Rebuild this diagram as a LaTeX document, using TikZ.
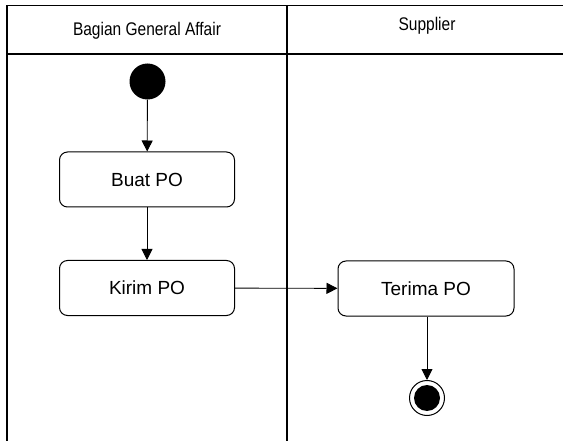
\documentclass[tikz,border=0pt]{standalone}
\usepackage{fontspec}
\setmainfont{Liberation Sans}
\usetikzlibrary{arrows.meta}
\begin{document}
\begin{tikzpicture}[x=1pt,y=-1pt,
  lane/.style={line width=1.2pt,draw=black},
  act/.style={draw=black,line width=1pt,rounded corners=8pt,minimum width=175pt,minimum height=55pt,inner sep=0pt,font=\fontsize{19}{22}\selectfont},
  hdr/.style={inner sep=0pt,anchor=base,font=\fontsize{15.5}{18}\selectfont},
  flow/.style={line width=0.9pt,-{Triangle[length=11pt,width=11pt]}}]
\useasboundingbox (0,0) rectangle (563,441);
\fill[white] (0,0) rectangle (563,441);
% swimlanes
\coordinate (tl) at (7,5.5);
\coordinate (tr) at (563,5.5);
\coordinate (hl) at (7,54);
\coordinate (hr) at (563,54);
\coordinate (bl) at (7,441);
\coordinate (dt) at (287,5.5);
\coordinate (db) at (287,441);
\draw[lane] (tr) -- (tl) -- (bl);
\draw[lane] (hl) -- (hr);
\draw[lane] (dt) -- (db);
\node[hdr] (h1) at (147,35.5) {\scalebox{1}[1.18]{Bagian General Affair}};
\node[hdr] (h2) at (427,30.5) {\scalebox{1}[1.18]{Supplier}};
% nodes
\node[circle,fill=black,minimum size=36pt,inner sep=0pt] (start) at (147.5,81.5) {};
\node[act] (buat) at (147,179.5) {Buat PO};
\node[act] (kirim) at (147,288) {Kirim PO};
\node[act,minimum width=176pt] (terima) at (426,288.5) {Terima PO};
\node[circle,draw=black,line width=1pt,fill=white,minimum size=35pt,inner sep=0pt] (end) at (427,398) {};
\fill[black] (end.center) circle (13pt);
% flows
\draw[flow] (start) -- (buat);
\draw[flow] (buat) -- (kirim);
\draw[flow] (kirim) -- (terima);
\draw[flow] (terima.south -| end) -- (end);
\end{tikzpicture}
\end{document}
